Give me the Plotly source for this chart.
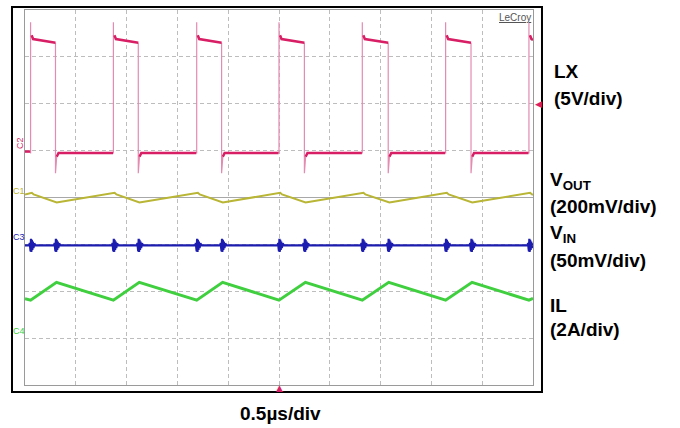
import plotly.graph_objects as go

# ---- time base (µs) and switching edges read from the capture ----
time_range_us = [0.0, 5.0]
lx_rise_us = [0.055, 0.870, 1.690, 2.500, 3.320, 4.140, 4.960]
lx_fall_us = [0.300, 1.115, 1.935, 2.750, 3.575, 4.390]

# ---- LX switch node (V) ----
lx_low_v = -0.25
lx_high_start_v = 11.9
lx_high_end_v = 11.5
lx_overshoot_v = 13.7
lx_undershoot_v = -2.4

# ---- VOUT ripple (mV, AC) ----
vout_start_mv = 13.0
vout_peak_mv = 17.0
vout_valley_mv = -21.0

# ---- VIN ripple (mV, AC) with switching bursts ----
vin_base_mv = -1.0
vin_burst_dt_us = [-0.014, -0.008, -0.004, 0.0, 0.004, 0.008, 0.012, 0.017, 0.022, 0.028, 0.036, 0.048]
vin_burst_mv = [0.0, 2.5, -3.0, -6.5, 7.0, -7.0, 6.0, -5.0, 4.0, -3.0, 2.0, 0.0]

# ---- inductor current (A) ----
il_t_us = [0.0, 0.055, 0.310, 0.870, 1.125, 1.690, 1.945, 2.500, 2.760,
           3.320, 3.580, 4.140, 4.400, 4.960, 5.0]
il_a = [1.68, 1.62, 2.38, 1.62, 2.38, 1.62, 2.38, 1.62, 2.38,
        1.62, 2.38, 1.62, 2.38, 1.62, 1.70]

# ---- trigger ----
trigger_time_us = 2.5
trigger_level_v = 5.0

# channel scales (units per division) and ground offsets (divisions from centre)
vout_range = [-800, 800]   # 200 mV/div, centred (main screen axis)
vout_div = 200
lx_range = [-25, 15]       # 5 V/div, ground +1 div
vin_range = [-150, 250]    # 50 mV/div, ground -1 div
il_range = [-2, 14]        # 2 A/div, ground -3 div

C_LX = "#d81e64"
C_LX_EDGE = "#e38bb0"
C_VOUT = "#b9b535"
C_VIN = "#1c1cb0"
C_IL = "#3fcf3f"
GRID = "#bdbdbd"

# LX plateaus (thick) and edges (thin)
lx_px, lx_py = [0.0, lx_rise_us[0] - 0.004], [lx_low_v + 0.15, lx_low_v + 0.15]
lx_px.append(None); lx_py.append(None)
for i, tr in enumerate(lx_rise_us):
    end = lx_fall_us[i] if i < len(lx_fall_us) else time_range_us[1]
    lx_px += [tr + 0.010, tr + 0.025, end, None]
    lx_py += [lx_high_start_v + 0.4, lx_high_start_v,
              lx_high_end_v if i < len(lx_fall_us) else lx_high_start_v - 0.1, None]
    if i < len(lx_fall_us):
        tf = lx_fall_us[i]
        lx_px += [tf + 0.012, tf + 0.03, lx_rise_us[i + 1] - 0.004, None]
        lx_py += [lx_low_v - 0.4, lx_low_v, lx_low_v, None]

lx_ex, lx_ey = [], []
for tr in lx_rise_us:
    lx_ex += [tr - 0.004, tr, tr, None]
    lx_ey += [lx_low_v, lx_low_v, lx_overshoot_v, None]
for i, tf in enumerate(lx_fall_us):
    lx_ex += [tf, tf, tf + 0.012, None]
    lx_ey += [lx_high_end_v, lx_undershoot_v, lx_low_v - 0.4, None]

# VOUT: falls during on-time, ramps back up during off-time
vout_t, vout_v = [0.0], [vout_start_mv]
for i, tr in enumerate(lx_rise_us):
    vout_t += [tr, tr + 0.012, tr + 0.03]
    vout_v += [vout_peak_mv, vout_peak_mv + 3, vout_peak_mv - 4]
    if i < len(lx_fall_us):
        tf = lx_fall_us[i]
        vout_t += [tf, tf + 0.012, tf + 0.04]
        vout_v += [vout_valley_mv + 3, vout_valley_mv, vout_valley_mv + 2]
vout_t.append(time_range_us[1]); vout_v.append(vout_peak_mv - 6)

# VIN: flat with ringing bursts at every edge
edges = sorted(lx_rise_us + lx_fall_us)
vin_t, vin_v = [0.0], [vin_base_mv]
for te in edges:
    for dt, dv in zip(vin_burst_dt_us, vin_burst_mv):
        t = te + dt
        if time_range_us[0] <= t <= time_range_us[1]:
            vin_t.append(t); vin_v.append(vin_base_mv + dv)
vin_t.append(time_range_us[1]); vin_v.append(vin_base_mv)

fig = go.Figure()
fig.add_trace(go.Scatter(x=il_t_us, y=il_a, yaxis="y5", mode="lines",
                         line=dict(color=C_IL, width=3), hoverinfo="skip"))
fig.add_trace(go.Scatter(x=vin_t, y=vin_v, yaxis="y4", mode="lines",
                         line=dict(color=C_VIN, width=2.2), hoverinfo="skip"))
fig.add_trace(go.Scatter(x=vout_t, y=vout_v, yaxis="y", mode="lines",
                         line=dict(color=C_VOUT, width=2), hoverinfo="skip"))
fig.add_trace(go.Scatter(x=lx_ex, y=lx_ey, yaxis="y2", mode="lines",
                         line=dict(color=C_LX_EDGE, width=1.2), hoverinfo="skip"))
fig.add_trace(go.Scatter(x=lx_px, y=lx_py, yaxis="y2", mode="lines",
                         line=dict(color=C_LX, width=2.5), hoverinfo="skip"))

# channel axes share the screen but draw nothing of their own
quiet = dict(overlaying="y", showgrid=False, zeroline=False, showline=False,
             showticklabels=False, ticks="", fixedrange=True)
fig.update_layout(
    width=680, height=428, autosize=False,
    margin=dict(l=25, r=147, t=10, b=43),
    paper_bgcolor="white", plot_bgcolor="rgba(0,0,0,0)",
    showlegend=False,
    xaxis=dict(range=time_range_us, dtick=0.5, tick0=0, showticklabels=False,
               ticks="", showgrid=True, gridcolor=GRID, griddash="4px,3px",
               gridwidth=1, zeroline=False, showline=True, linecolor="#9a9a9a",
               linewidth=1, mirror=True, fixedrange=True),
    yaxis=dict(range=vout_range, dtick=vout_div, tick0=0, showticklabels=False, ticks="",
               showgrid=True, gridcolor=GRID, griddash="4px,3px", gridwidth=1,
               zeroline=True, zerolinecolor="#a8a8a8", zerolinewidth=1,
               showline=True, linecolor="#9a9a9a", linewidth=1, mirror=True,
               fixedrange=True),
    yaxis2=dict(range=lx_range, **quiet),
    yaxis4=dict(range=vin_range, **quiet),
    yaxis5=dict(range=il_range, **quiet),
)

# scope frame
fig.add_shape(type="rect", xref="paper", yref="paper",
              x0=-0.0256, x1=1.0177, y0=-0.0187, y1=1.008,
              line=dict(color="black", width=2), fillcolor="rgba(0,0,0,0)")

font = "Arial, Liberation Sans, sans-serif"
ann = []
# channel ground markers
for name, yref, col, ang in [("C2", "y2", C_LX, -90), ("C1", "y", C_VOUT, 0),
                             ("C3", "y4", C_VIN, 0), ("C4", "y5", C_IL, 0)]:
    ann.append(dict(text=name, xref="paper", yref=yref, x=-0.011, y=0,
                    xanchor="center", yanchor="bottom", showarrow=False,
                    textangle=ang, font=dict(family=font, size=9, color=col)))
# trigger markers
ann.append(dict(text="◀", xref="paper", yref="y2", x=1.0, y=trigger_level_v,
                xanchor="left", yanchor="middle", showarrow=False,
                font=dict(family="DejaVu Sans", size=9, color=C_LX)))
ann.append(dict(text="▲", xref="x", yref="paper", x=trigger_time_us, y=0.0,
                xanchor="center", yanchor="top", showarrow=False, yshift=4,
                font=dict(family="DejaVu Sans", size=9, color=C_LX)))
ann.append(dict(text="<u>LeCroy</u>", xref="paper", yref="paper", x=1.0, y=0.98,
                xanchor="right", yanchor="middle", showarrow=False,
                font=dict(family=font, size=10, color="#555555")))

labels = [("LX", 1.037, 0.835), ("(5V/div)", 1.037, 0.765),
          ("V<sub>OUT</sub>", 1.0295, 0.545), ("(200mV/div)", 1.0295, 0.477),
          ("V<sub>IN</sub>", 1.0295, 0.403), ("(50mV/div)", 1.0295, 0.333),
          ("IL", 1.0295, 0.213), ("(2A/div)", 1.0295, 0.147)]
for txt, x, y in labels:
    ann.append(dict(text="<b>" + txt + "</b>", xref="paper", yref="paper", x=x, y=y,
                    xanchor="left", yanchor="middle", showarrow=False,
                    font=dict(family=font, size=19, color="black")))
ann.append(dict(text="<b>0.5µs/div</b>", xref="paper", yref="paper", x=0.502, y=-0.077,
                xanchor="center", yanchor="middle", showarrow=False,
                font=dict(family=font, size=19, color="black")))
fig.update_layout(annotations=ann)

fig.write_html("out.html")
